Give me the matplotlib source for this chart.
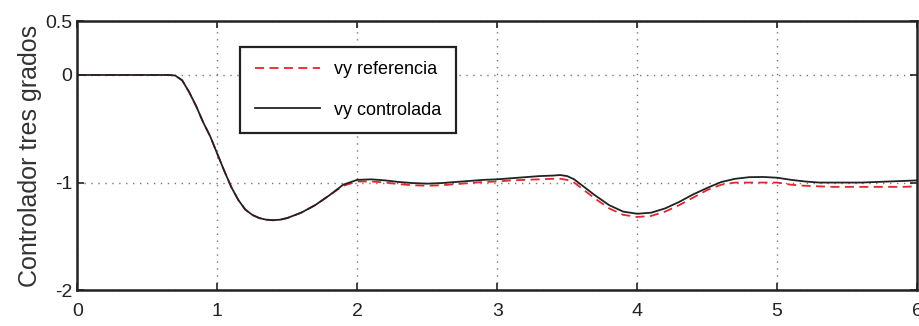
import matplotlib.pyplot as plt

# tiempo (s)
t = [0.0, 0.3, 0.6, 0.65, 0.7, 0.75, 0.8, 0.85, 0.9, 0.95, 1.0, 1.05, 1.1, 1.15,
     1.2, 1.25, 1.3, 1.35, 1.4, 1.45, 1.5, 1.6, 1.7, 1.8, 1.9, 2.0, 2.1, 2.2,
     2.3, 2.4, 2.5, 2.6, 2.7, 2.8, 2.9, 3.0, 3.1, 3.2, 3.3, 3.4, 3.45, 3.5,
     3.55, 3.6, 3.7, 3.8, 3.9, 4.0, 4.1, 4.2, 4.3, 4.4, 4.5, 4.6, 4.7, 4.8,
     4.9, 5.0, 5.1, 5.2, 5.3, 5.4, 5.5, 5.6, 5.7, 5.8, 5.9, 6.0]

vy_controlada = [0.0, 0.0, 0.0, 0.0, -0.005, -0.05, -0.16, -0.29, -0.44, -0.57,
                 -0.73, -0.89, -1.04, -1.16, -1.25, -1.30, -1.33, -1.345, -1.35,
                 -1.345, -1.33, -1.28, -1.21, -1.12, -1.02, -0.975, -0.97, -0.98,
                 -0.995, -1.005, -1.01, -1.005, -0.995, -0.985, -0.975, -0.97,
                 -0.96, -0.95, -0.94, -0.935, -0.93, -0.94, -0.97, -1.02, -1.12,
                 -1.21, -1.27, -1.29, -1.28, -1.24, -1.18, -1.11, -1.05, -0.995,
                 -0.965, -0.95, -0.948, -0.955, -0.975, -0.99, -1.0, -1.0, -1.0,
                 -1.0, -0.995, -0.99, -0.985, -0.98]

vy_referencia = [0.0, 0.0, 0.0, 0.0, -0.005, -0.05, -0.16, -0.29, -0.44, -0.57,
                 -0.73, -0.89, -1.04, -1.16, -1.25, -1.30, -1.33, -1.345, -1.35,
                 -1.345, -1.33, -1.28, -1.21, -1.12, -1.03, -0.99, -0.99, -1.0,
                 -1.015, -1.025, -1.03, -1.025, -1.015, -1.005, -0.995, -0.99,
                 -0.98, -0.975, -0.97, -0.965, -0.965, -0.975, -1.0, -1.05, -1.15,
                 -1.24, -1.30, -1.32, -1.31, -1.27, -1.21, -1.14, -1.07, -1.02,
                 -1.0, -1.0, -1.0, -1.0, -1.02, -1.03, -1.035, -1.04, -1.04,
                 -1.04, -1.04, -1.04, -1.04, -1.035]

xticks = [0, 1, 2, 3, 4, 5, 6]
yticks = [-2, -1, 0, 0.5]
ytick_labels = ['-2', '-1', '0', '0.5']

plt.rcParams['font.family'] = ['Liberation Sans', 'DejaVu Sans']

fig = plt.figure(figsize=(9.19, 3.26), dpi=100)
ax = fig.add_axes([0.084, 0.11, 0.914, 0.825])

ax.plot(t, vy_referencia, color='#e8252a', linestyle='--', dashes=(5, 3),
        linewidth=1.3, label='vy referencia')
ax.plot(t, vy_controlada, color='#222222', linewidth=1.3, label='vy controlada')

ax.set_xlim(0, 6)
ax.set_ylim(-2, 0.5)
ax.set_xticks(xticks)
ax.set_yticks(yticks)
ax.set_yticklabels(ytick_labels)
ax.tick_params(direction='in', length=5, width=1.2, labelsize=14,
               top=True, right=True, colors='#222222')
ax.tick_params(axis='x', pad=9)
ax.grid(True, linestyle=(0, (1, 4)), color='#777777', linewidth=1.0)
for s in ax.spines.values():
    s.set_linewidth(1.8)
    s.set_color('#222222')

ax.set_ylabel('Controlador tres grados', fontsize=18, color='#333333', labelpad=2)

leg = ax.legend(loc='upper left', bbox_to_anchor=(0.194, 0.905), fontsize=13,
                handlelength=3.6, fancybox=False, framealpha=1,
                edgecolor='#222222', borderpad=0.8, labelspacing=1.3,
                borderaxespad=0)
leg.get_frame().set_linewidth(1.6)

fig.savefig('out.png', dpi=100)
